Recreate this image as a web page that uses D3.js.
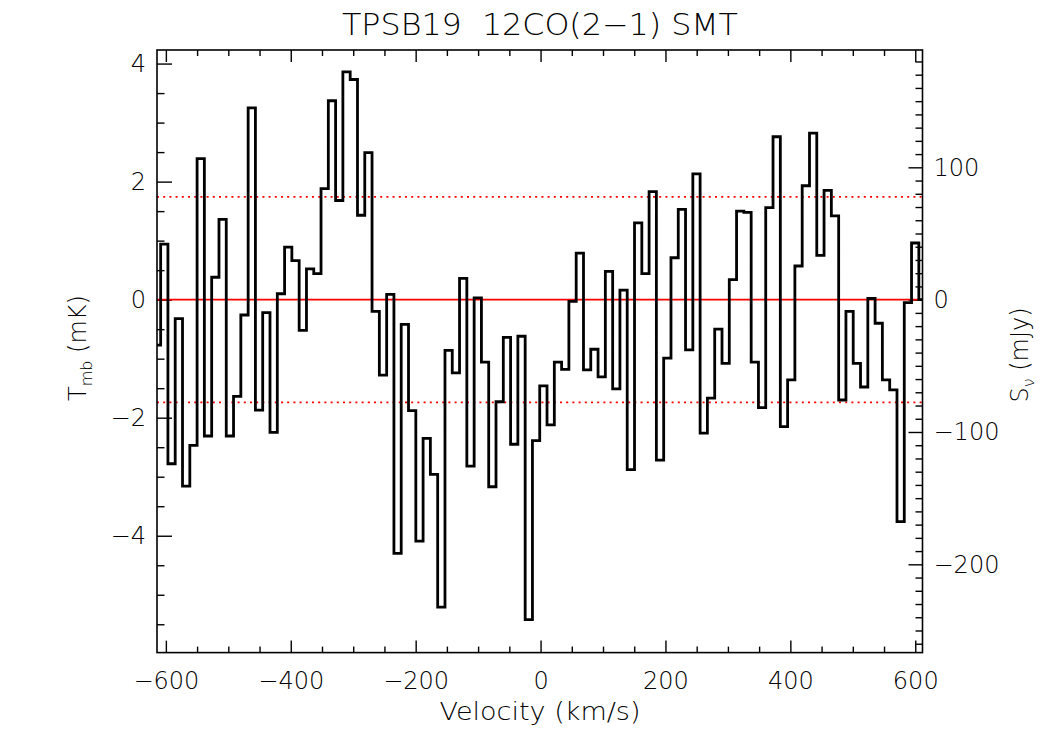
<!DOCTYPE html>
<html><head><meta charset="utf-8">
<script src="https://cdn.jsdelivr.net/npm/d3@7"></script>
<style>
body{margin:0;background:#fff}
text{font-family:"DejaVu Sans",sans-serif;fill:#000;font-weight:200}
</style>
</head><body>
<svg id="c" width="1050" height="750"></svg>
<script>
// ---- data ----
const velocity = [
 -614.2,-602.5,-590.9,-579.2,-567.5,-555.8,-544.2,-532.5,-520.8,-509.1,
 -497.5,-485.8,-474.1,-462.4,-450.8,-439.1,-427.4,-415.7,-404.1,-392.4,
 -380.7,-369.0,-357.4,-345.7,-334.0,-322.4,-310.7,-299.0,-287.3,-275.7,
 -264.0,-252.3,-240.6,-229.0,-217.3,-205.6,-193.9,-182.3,-170.6,-158.9,
 -147.2,-135.6,-123.9,-112.2,-100.5,-88.9,-77.2,-65.5,-53.8,-42.2,
 -30.5,-18.8,-7.2,4.5,16.2,27.9,39.5,51.2,62.9,74.6,
 86.2,97.9,109.6,121.3,132.9,144.6,156.3,168.0,179.6,191.3,
 203.0,214.7,226.3,238.0,249.7,261.3,273.0,284.7,296.4,308.0,
 319.7,331.4,343.1,354.7,366.4,378.1,389.8,401.4,413.1,424.8,
 436.5,448.1,459.8,471.5,483.2,494.8,506.5,518.2,529.9,541.5,
 553.2,564.9,576.6,588.2,599.9,611.6];
const tmb = [
 -0.77,0.94,-2.78,-0.32,-3.16,-2.47,2.39,-2.31,0.38,1.36,
 -2.31,-1.64,-0.26,3.25,-1.87,-0.22,-2.25,0.10,0.89,0.66,
 -0.52,0.52,0.44,1.88,3.37,1.68,3.86,3.73,1.43,2.49,
 -0.20,-1.28,0.09,-4.30,-0.42,-1.88,-4.09,-2.35,-2.96,-5.21,
 -0.86,-1.24,0.36,-2.82,0.03,-1.06,-3.17,-1.73,-0.64,-2.45,
 -0.62,-5.42,-2.39,-1.46,-2.12,-1.06,-1.18,-0.03,0.79,-1.19,
 -0.84,-1.31,0.48,-1.51,0.16,-2.88,1.30,0.44,1.83,-2.72,
 -0.99,0.71,1.53,-0.85,2.13,-2.26,-1.67,-0.50,-1.08,0.34,
 1.50,1.48,-1.06,-1.83,1.56,2.76,-2.15,-1.36,0.57,1.93,
 2.82,0.75,1.85,1.42,-1.70,-0.20,-1.08,-1.48,0.02,-0.40,
 -1.36,-1.53,-3.76,-0.05,0.96,0.00];
const xMajorTicks = [-600,-400,-200,0,200,400,600];
const leftMajorTicks = [-4,-2,0,2,4];
const rightMajorTicks = [-200,-100,0,100];
const rmsLevel = 1.74;          // mK, dotted lines
const mJyPerMK = 44.6;          // conversion for right axis
const titleText = "TPSB19\u00a0\u00a012CO(2\u22121) SMT";
const xLabel = "Velocity (km/s)";

// ---- layout ----
const L = 157, R = 922.5, T = 50, B = 652.6;
const yMin = -5.98, yMax = 4.23;
const svg = d3.select("#c");
const x = d3.scaleLinear().domain([velocity[0], velocity[velocity.length-1]]).range([L, R]);
const y = d3.scaleLinear().domain([yMin, yMax]).range([B, T]);
const yR = d3.scaleLinear().domain([yMin*mJyPerMK, yMax*mJyPerMK]).range([B, T]);
const fmt = d => d < 0 ? "\u2212" + Math.abs(d) : String(d);

const minorX = d3.range(-600, 601, 50).filter(v => !xMajorTicks.includes(v));
const minorL = d3.range(-5.5, 4.01, 0.5).filter(v => !leftMajorTicks.includes(v));
const minorR = d3.range(-260, 181, 10).filter(v => !rightMajorTicks.includes(v) && yR(v) <= B && yR(v) >= T);

function styleAxis(g){ g.select(".domain").remove(); g.selectAll("line").attr("stroke","#000").attr("stroke-width",1.4); }

// bottom
svg.append("g").attr("transform",`translate(0,${B})`)
  .call(d3.axisBottom(x).tickValues(xMajorTicks).tickSizeInner(-12).tickSizeOuter(0).tickPadding(19).tickFormat(fmt))
  .call(styleAxis).call(g=>g.selectAll("text").attr("font-size",24));
svg.append("g").attr("transform",`translate(0,${B})`)
  .call(d3.axisBottom(x).tickValues(minorX).tickSizeInner(-6).tickSizeOuter(0).tickFormat(""))
  .call(styleAxis);
// top
svg.append("g").attr("transform",`translate(0,${T})`)
  .call(d3.axisTop(x).tickValues(xMajorTicks).tickSizeInner(-12).tickSizeOuter(0).tickFormat(""))
  .call(styleAxis);
svg.append("g").attr("transform",`translate(0,${T})`)
  .call(d3.axisTop(x).tickValues(minorX).tickSizeInner(-6).tickSizeOuter(0).tickFormat(""))
  .call(styleAxis);
// left
svg.append("g").attr("transform",`translate(${L},0)`)
  .call(d3.axisLeft(y).tickValues(leftMajorTicks).tickSizeInner(-15).tickSizeOuter(0).tickPadding(11).tickFormat(fmt))
  .call(styleAxis).call(g=>g.selectAll("text").attr("font-size",24));
svg.append("g").attr("transform",`translate(${L},0)`)
  .call(d3.axisLeft(y).tickValues(minorL).tickSizeInner(-7.5).tickSizeOuter(0).tickFormat(""))
  .call(styleAxis);
// right
svg.append("g").attr("transform",`translate(${R},0)`)
  .call(d3.axisRight(yR).tickValues(rightMajorTicks).tickSizeInner(-14).tickSizeOuter(0).tickPadding(11).tickFormat(fmt))
  .call(styleAxis).call(g=>g.selectAll("text").attr("font-size",24));
svg.append("g").attr("transform",`translate(${R},0)`)
  .call(d3.axisRight(yR).tickValues(minorR).tickSizeInner(-7).tickSizeOuter(0).tickFormat(""))
  .call(styleAxis);

// reference lines
svg.append("line").attr("x1",L).attr("x2",R).attr("y1",y(0)).attr("y2",y(0))
  .attr("stroke","#ff0000").attr("stroke-width",1.6);
[rmsLevel,-rmsLevel].forEach(v=>{
  svg.append("line").attr("x1",L).attr("x2",R).attr("y1",y(v)).attr("y2",y(v))
    .attr("stroke","#ff0000").attr("stroke-width",1.8).attr("stroke-dasharray","2,4.2");
});

// spectrum
const line = d3.line().x((d,i)=>x(velocity[i])).y(d=>y(d)).curve(d3.curveStep);
svg.append("path").datum(tmb).attr("d",line).attr("fill","none")
  .attr("stroke","#000").attr("stroke-width",2.8).attr("stroke-linejoin","miter");

// frame
svg.append("rect").attr("x",L).attr("y",T).attr("width",R-L).attr("height",B-T)
  .attr("fill","none").attr("stroke","#000").attr("stroke-width",1.6);

// title & labels
svg.append("text").attr("x",540).attr("y",35).attr("text-anchor","middle")
  .attr("font-size",30).attr("textLength",396).attr("lengthAdjust","spacingAndGlyphs").text(titleText);
svg.append("text").attr("x",540).attr("y",720).attr("text-anchor","middle")
  .attr("font-size",24).attr("textLength",201).attr("lengthAdjust","spacingAndGlyphs").text(xLabel);

const yl = svg.append("text").attr("transform","translate(86,348) rotate(-90)").attr("text-anchor","middle").attr("font-size",24);
yl.append("tspan").text("T");
yl.append("tspan").attr("font-size",16).attr("dy",6).text("mb");
yl.append("tspan").attr("dy",-6).text(" (mK)");

const yr = svg.append("text").attr("transform","translate(1028,355) rotate(-90)").attr("text-anchor","middle").attr("font-size",24);
yr.append("tspan").text("S");
yr.append("tspan").attr("font-size",16).attr("dy",6).text("\u03bd");
yr.append("tspan").attr("dy",-6).text(" (mJy)");
</script>
</body></html>
